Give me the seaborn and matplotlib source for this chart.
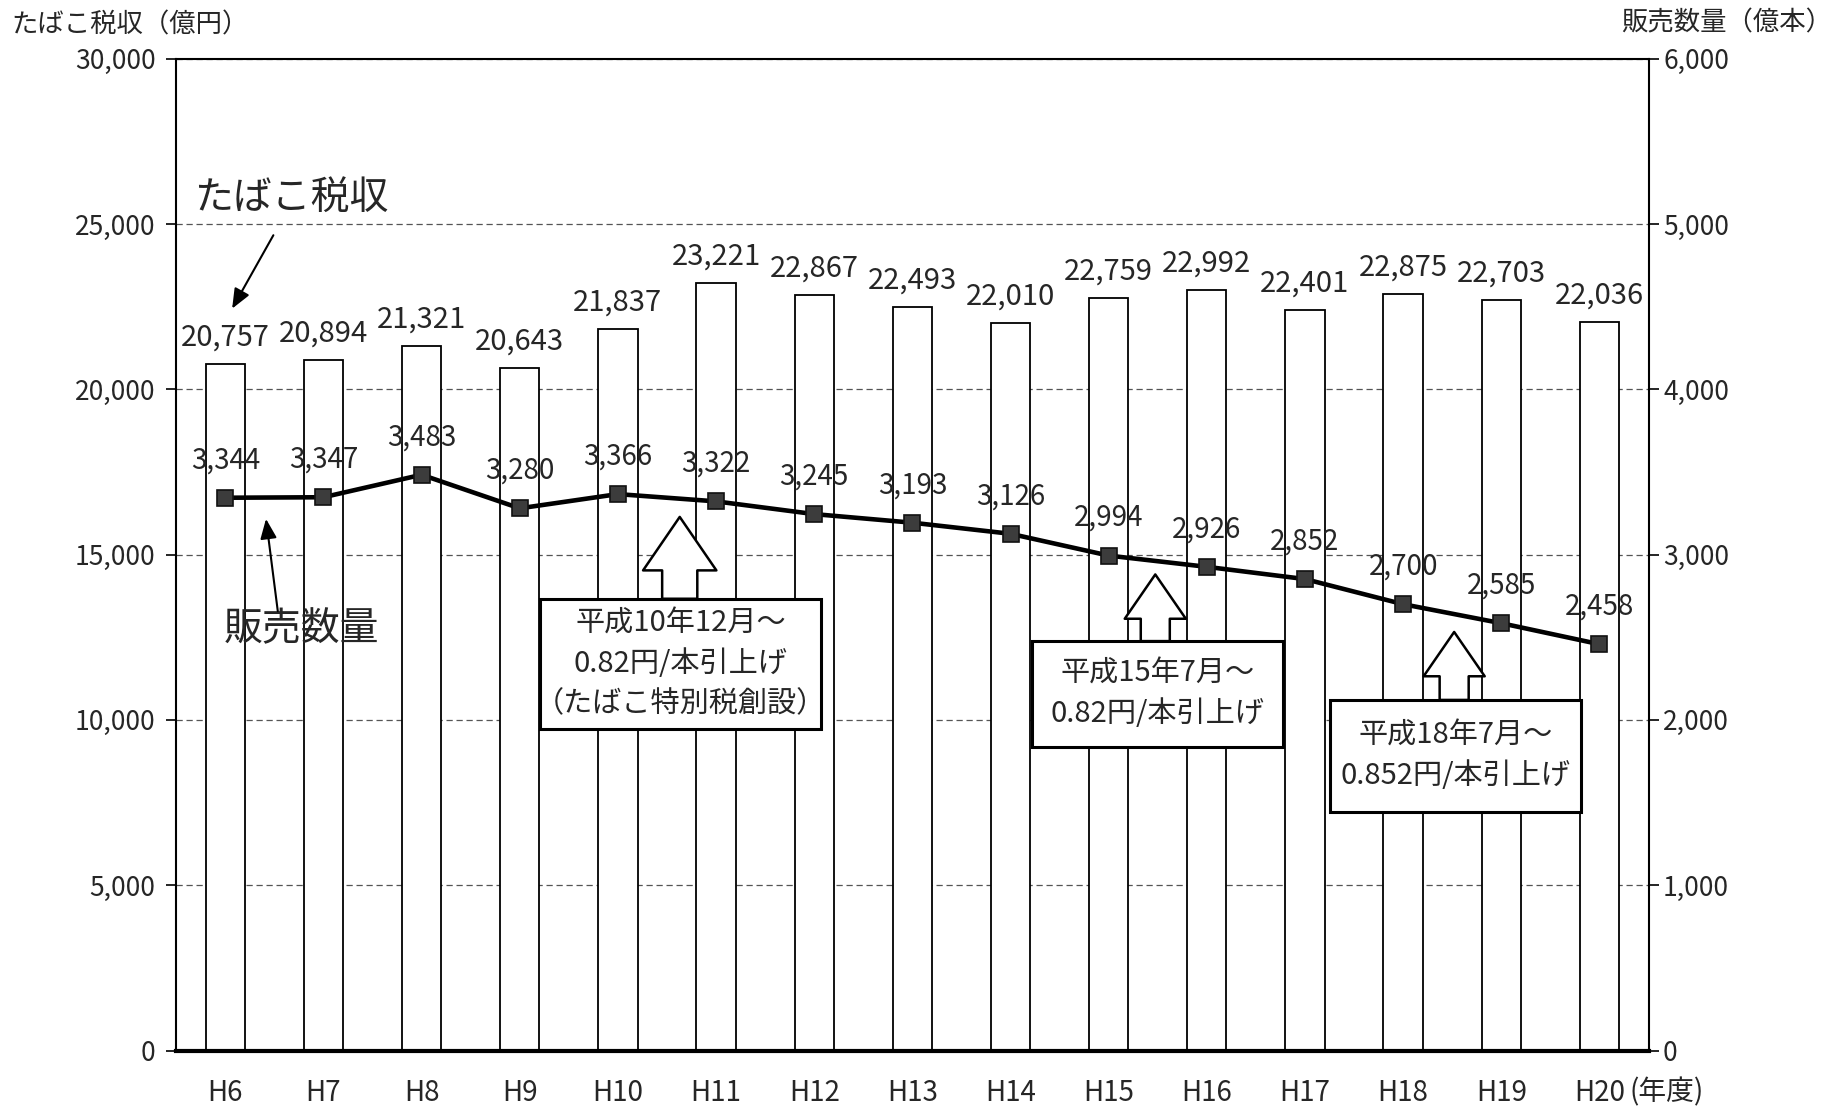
import numpy as np
import matplotlib
matplotlib.use("Agg")
import matplotlib.pyplot as plt
import matplotlib.patches as mpatches
import seaborn as sns

# Fiscal years (Heisei), tobacco tax revenue (100M yen) and sales volume (100M sticks)
years = ["H6", "H7", "H8", "H9", "H10", "H11", "H12", "H13", "H14", "H15",
         "H16", "H17", "H18", "H19", "H20"]
tax_revenue = [20757, 20894, 21321, 20643, 21837, 23221, 22867, 22493, 22010,
               22759, 22992, 22401, 22875, 22703, 22036]
sales_volume = [3344, 3347, 3483, 3280, 3366, 3322, 3245, 3193, 3126, 2994,
                2926, 2852, 2700, 2585, 2458]

sns.set_style("white")
plt.rcParams["font.family"] = ["Noto Sans CJK JP", "DejaVu Sans"]

fig = plt.figure(figsize=(18.45, 11.07), dpi=100)
ax = fig.add_axes([0.0955, 0.051, 0.798, 0.896])

# ------------------------ bars: tobacco tax revenue ------------------------
sns.barplot(x=years, y=tax_revenue, color="white", edgecolor="black",
            linewidth=1.3, width=0.4, ax=ax, zorder=2)
ax.set_xlim(-0.5, len(years) - 0.5)
ax.set_ylim(0, 30000)
ax.set_yticks(range(0, 30001, 5000))
ax.set_yticklabels([f"{v:,}" for v in range(0, 30001, 5000)], fontsize=19)
ax.yaxis.grid(True, linestyle=(0, (5, 3)), color="#555555", linewidth=0.9)
ax.set_axisbelow(True)
ax.set_xlabel("")
ax.set_ylabel("")

# category labels at centres, tick marks at category boundaries
ax.set_xticks(np.arange(len(years)))
ax.set_xticklabels(years, fontsize=20)
ax.tick_params(axis="x", length=0, pad=20)
ax.set_xticks(np.arange(-0.5, len(years), 1.0), minor=True)
ax.tick_params(axis="x", which="minor", length=9, width=1.2, direction="out", color="black")
ax.tick_params(axis="y", length=7, width=1.2, pad=8, direction="out", left=True, color="black")

for side in ["left", "right", "top"]:
    ax.spines[side].set_color("black")
    ax.spines[side].set_linewidth(1.5)
ax.spines["bottom"].set_color("black")
ax.spines["bottom"].set_linewidth(3)

for i, v in enumerate(tax_revenue):
    ax.annotate(f"{v:,}", xy=(i, v), xytext=(0, 19), textcoords="offset points",
                ha="center", va="center", fontsize=21)

# ------------------------ line: sales volume ------------------------
ax2 = ax.twinx()
sns.lineplot(x=np.arange(len(years)), y=sales_volume, ax=ax2, color="black",
             linewidth=3.3, marker="s", markersize=12, markerfacecolor="#3c3c3c",
             markeredgecolor="#111111", markeredgewidth=1.2, zorder=5)
ax2.set_ylim(0, 6000)
ax2.set_yticks(range(0, 6001, 1000))
ax2.set_yticklabels([f"{v:,}" for v in range(0, 6001, 1000)], fontsize=19)
ax2.tick_params(axis="y", length=7, width=1.2, direction="out", right=True, color="black")
ax2.set_ylabel("")
for side in ["left", "right", "top", "bottom"]:
    ax2.spines[side].set_visible(False)

for i, v in enumerate(sales_volume):
    ax2.annotate(f"{v:,}", xy=(i, v), xytext=(0, 27), textcoords="offset points",
                 ha="center", va="center", fontsize=20)

# ------------------------ axis titles ------------------------
fig.text(0.006, 0.977, "たばこ税収（億円）", fontsize=19, ha="left", va="center")
fig.text(0.993, 0.979, "販売数量（億本）", fontsize=19, ha="right", va="center")
ax.text(14.31, -0.042, "(年度)", transform=ax.get_xaxis_transform(),
        fontsize=20, ha="left", va="center")

# ------------------------ callouts ------------------------
ax2.text(0.012, 0.860, "たばこ税収", transform=ax2.transAxes, fontsize=28,
         ha="left", va="center")
ax2.annotate("", xy=(0.038, 0.748), xytext=(0.066, 0.822), xycoords="axes fraction",
             arrowprops=dict(arrowstyle="-|>,head_width=0.5,head_length=1.2",
                             color="black", lw=1.5, shrinkA=0, shrinkB=0))
ax2.text(0.032, 0.425, "販売数量", transform=ax2.transAxes, fontsize=28,
         ha="left", va="center")
ax2.annotate("", xy=(0.061, 0.536), xytext=(0.069, 0.443), xycoords="axes fraction",
             arrowprops=dict(arrowstyle="-|>,head_width=0.5,head_length=1.2",
                             color="black", lw=1.5, shrinkA=0, shrinkB=0))

# text boxes: (left, bottom, right, top) in axes fraction, then the text
boxes = [((0.247, 0.324, 0.438, 0.4555), "平成10年12月～\n0.82円/本引上げ\n（たばこ特別税創設）"),
         ((0.5816, 0.306, 0.752, 0.4128), "平成15年7月～\n0.82円/本引上げ"),
         ((0.784, 0.2408, 0.954, 0.3535), "平成18年7月～\n0.852円/本引上げ")]
for (x0, y0, x1, y1), txt in boxes:
    ax2.add_patch(mpatches.Rectangle((x0, y0), x1 - x0, y1 - y0, transform=ax2.transAxes,
                                     fc="white", ec="black", lw=2.2, zorder=6))
    ax2.text((x0 + x1) / 2, (y0 + y1) / 2, txt, transform=ax2.transAxes, fontsize=21,
             ha="center", va="center", linespacing=1.45, zorder=7)

# hollow block arrows pointing at the price-rise years
block_arrows = [(0.342, 0.538, 0.4555, 2.4, 1.15, 1.75),
                (0.665, 0.480, 0.4128, 2.0, 0.95, 1.45),
                (0.868, 0.422, 0.3535, 2.0, 0.95, 1.45)]
for x, tip, base, hw, tw, hl in block_arrows:
    ax2.annotate("", xy=(x, tip), xytext=(x, base), xycoords="axes fraction",
                 arrowprops=dict(arrowstyle=f"simple,head_width={hw},head_length={hl},tail_width={tw}",
                                 fc="white", ec="black", lw=1.8, shrinkA=0, shrinkB=0,
                                 mutation_scale=22), zorder=8)

fig.savefig("out.png", dpi=100)
